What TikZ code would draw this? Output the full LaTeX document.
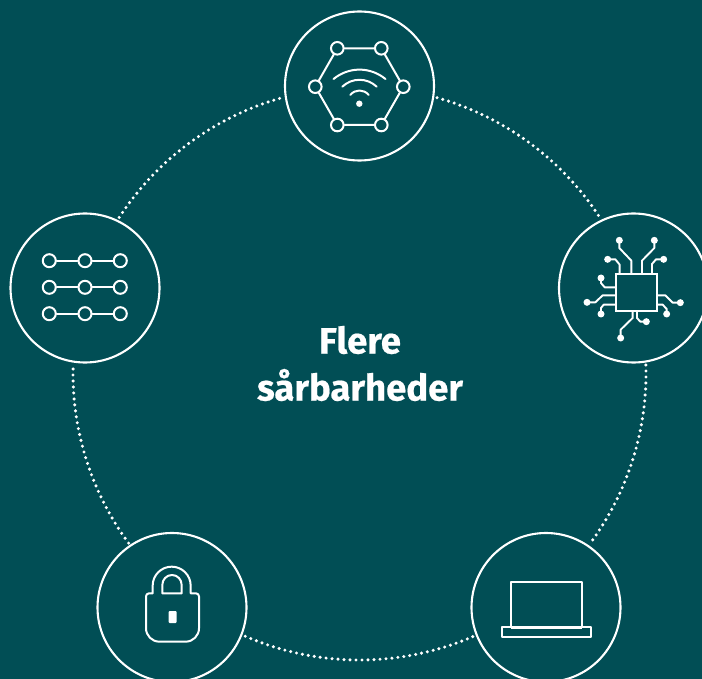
\documentclass[tikz,border=0pt]{standalone}
\usepackage{fontspec}
\setmainfont{Fira Sans}
\newfontfamily\labelfont[BoldFeatures={FakeBold=0.5}]{Fira Sans}
\definecolor{bgteal}{HTML}{014E55}
\tikzset{
  hubcircle/.style={circle,draw=white,fill=bgteal,line width=2.1pt,minimum size=149pt,inner sep=0pt},
  ring/.style={draw=white,line width=3.4pt,line cap=round,dash pattern=on 0pt off 6pt},
  icon/.style={draw=white,line width=2pt,line join=round,line cap=round},
  ringnode/.style={circle,draw=white,fill=bgteal,line width=2pt,minimum size=12.6pt,inner sep=0pt},
  rownode/.style={circle,draw=white,fill=bgteal,line width=2pt,minimum size=13pt,inner sep=0pt},
  pin/.style={draw=white,line width=1.9pt,line join=round},
  pindot/.style={circle,fill=white,minimum size=7pt,inner sep=0pt},
  zoomA/.style={x=0.33333pt,y=-0.33333pt}
}
\begin{document}
\begin{tikzpicture}[x=1pt,y=-1pt]
\path[use as bounding box,clip] (0,0) rectangle (702,679);
\fill[bgteal] (0,0) rectangle (702,679);
% dotted ring
\coordinate (hub) at (359.5,373.5);
\foreach \a/\b in {-74.3/-33,-1.7/36.3,66.7/114.5,143.7/181.7,213/254.3}
  \draw[ring] (hub) ++(\a:286.5) arc[start angle=\a,end angle=\b,radius=286.5];
% main circles
\node[hubcircle] (top) at (359.5,86) {};
\node[hubcircle] (right) at (633.5,288) {};
\node[hubcircle] (left) at (85,288) {};
\node[hubcircle] (bl) at (172,607.5) {};
\node[hubcircle] (br) at (546,607.5) {};
% centre label
\node[text=white,font=\labelfont\fontsize{36.5}{47}\selectfont\bfseries,align=center,anchor=center] (label) at (360,363.5) {Flere\\sårbarheder};
% hexagon + wifi
\node[ringnode] (h1) at (337.3,48.3) {};
\node[ringnode] (h2) at (381.3,48.3) {};
\node[ringnode] (h3) at (403.3,86.7) {};
\node[ringnode] (h4) at (381.3,125) {};
\node[ringnode] (h5) at (337.3,125) {};
\node[ringnode] (h6) at (315.3,86.7) {};
\draw[icon] (h1)--(h2) (h2)--(h3) (h3)--(h4) (h4)--(h5) (h5)--(h6) (h6)--(h1);
\draw[icon] (333.5,79) .. controls (349,66.5) and (370,66.5) .. (385.5,79);
\draw[icon] (342.3,86.7) .. controls (352,77.5) and (367,77.5) .. (376.7,86.7);
\draw[icon] (350.3,95) .. controls (355,89) and (364,89) .. (368.7,95);
\fill[white] (359.3,103.7) circle[radius=3.2];
% rows of nodes
\foreach \r/\y in {a/260.7,b/287.3,c/313.7}{
  \node[rownode] (\r1) at (49.3,\y) {};
  \node[rownode] (\r2) at (85,\y) {};
  \node[rownode] (\r3) at (120.3,\y) {};
  \draw[icon] (\r1)--(\r2) (\r2)--(\r3);
}
% chip
\begin{scope}[shift={(552pt,-208pt)},zoomA]
\draw[draw=white,line width=2.1pt] (191,198) rectangle (315,308);
\foreach \n/\p/\q in {
 p1/{(202,97)}/{(202,120) -- (238,158) -- (238,198)},
 p2/{(307,97)}/{(307,120) -- (270,158) -- (270,198)},
 p3/{(167,154)}/{(190,154) -- (203,170) -- (203,198)},
 p4/{(335,154)}/{(312,154) -- (300,168) -- (300,198)},
 p5/{(147,210)}/{(147,225) -- (158,238) -- (190,238)},
 p6/{(105,283)}/{(130,283) -- (152,262) -- (190,262)},
 p7/{(147,318)}/{(147,300) -- (155,290) -- (190,290)},
 p8/{(385,284)}/{(362,284) -- (340,262) -- (315,262)},
 p9/{(344,318)}/{(344,303) -- (332,290) -- (315,290)},
 p10/{(206,390)}/{(206,365) -- (242,330) -- (242,308)},
 p11/{(283,341)}/{(265,341) -- (255,330) -- (255,308)}}{
  \node[pindot] (\n) at \p {};
  \draw[pin] (\n.center) -- \q;
}
\end{scope}
% padlock
\begin{scope}[shift={(90pt,-525pt)},zoomA]
\draw[icon] (188,205) -- (188,182) .. controls (188,150) and (214,125) .. (245,125) .. controls (276,125) and (302,150) .. (302,182) -- (302,205)
  -- (318,205) .. controls (323,205) and (327,209) .. (327,214) -- (327,310)
  .. controls (327,332) and (309,350) .. (287,350) -- (208,350)
  .. controls (186,350) and (168,332) .. (168,310) -- (168,214)
  .. controls (168,209) and (172,205) .. (177,205) -- cycle;
\draw[icon] (217,205) -- (217,180) .. controls (217,163) and (230,150) .. (246,150) .. controls (262,150) and (275,163) .. (275,180) -- (275,205) -- cycle;
\fill[white,rounded corners=1pt] (236,258) rectangle (260,294);
\end{scope}
% laptop
\begin{scope}[shift={(465pt,-525pt)},zoomA]
\draw[icon] (137,306) -- (137,172) -- (352,172) -- (352,306);
\draw[icon,line width=1.8pt] (112,306) rectangle (377,337);
\draw[draw=white,line width=2.8pt] (137,306.5) -- (352,306.5);
\end{scope}
\end{tikzpicture}
\end{document}
